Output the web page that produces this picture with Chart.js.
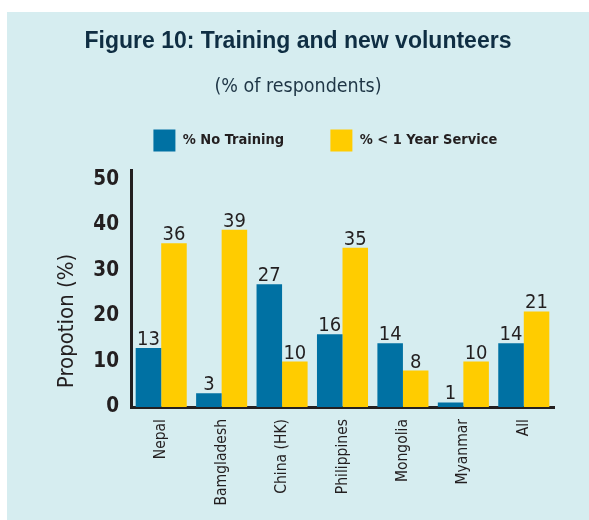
<!DOCTYPE html>
<html><head><meta charset="utf-8">
<script src="https://cdn.jsdelivr.net/npm/chart.js@4.4.1/dist/chart.umd.min.js"></script>
<style>
html,body{margin:0;padding:0;background:#ffffff;}
#panel{position:absolute;left:7px;top:12px;width:582px;height:508px;background:#d6edf0;}
canvas{display:block}
</style></head><body>
<div id="panel"><canvas id="c" width="582" height="508"></canvas></div>
<script>
const categories = ['Nepal', 'Bamgladesh', 'China (HK)', 'Philippines', 'Mongolia', 'Myanmar', 'All'];
const noTraining = [13, 3, 27, 16, 14, 1, 14];
const underOneYear = [36, 39, 10, 35, 8, 10, 21];
const seriesNames = ['% No Training', '% < 1 Year Service'];
const yTicks = [0, 10, 20, 30, 40, 50];
const titleText = 'Figure 10: Training and new volunteers';
const subtitleText = '(% of respondents)';
const yTitleText = 'Propotion (%)';

const NARROW = "'DejaVu Sans Condensed', 'Liberation Sans', sans-serif";
const SANS = "'Liberation Sans', Arial, sans-serif";
const INK = '#231f20';

const valueLabels = {
  id: 'valueLabels',
  afterDatasetsDraw(chart) {
    const ctx = chart.ctx;
    ctx.save();
    ctx.font = '20px ' + NARROW;
    ctx.fillStyle = INK;
    ctx.textAlign = 'center';
    ctx.textBaseline = 'alphabetic';
    chart.data.datasets.forEach((ds, i) => {
      chart.getDatasetMeta(i).data.forEach((bar, j) => {
        ctx.fillText(String(ds.data[j]), bar.x, bar.y - 3);
      });
    });
    ctx.restore();
  }
};

const legendGap = {
  id: 'legendGap',
  beforeInit(chart) {
    if (!chart.legend) return;
    const orig = chart.legend.fit;
    chart.legend.fit = function () { orig.call(this); this.height += 9; };
  }
};

new Chart(document.getElementById('c'), {
  type: 'bar',
  data: {
    labels: categories,
    datasets: [
      { label: seriesNames[0], data: noTraining, backgroundColor: '#0071a3', borderWidth: 0, categoryPercentage: 0.845, barPercentage: 1.0 },
      { label: seriesNames[1], data: underOneYear, backgroundColor: '#ffcc00', borderWidth: 0, categoryPercentage: 0.845, barPercentage: 1.0 }
    ]
  },
  options: {
    responsive: false,
    animation: false,
    layout: { padding: 0 },
    plugins: {
      title: { display: true, text: titleText, color: '#0f2e43', font: { family: SANS, size: 23, weight: 'bold', lineHeight: 1.2 }, padding: { top: 15.7, bottom: 0 } },
      subtitle: { display: true, text: subtitleText, color: '#1f3646', font: { family: NARROW, size: 19.5, weight: 'normal', lineHeight: 1.2 }, padding: { top: 19.7, bottom: 21.1 } },
      legend: {
        display: true, position: 'top', align: 'end',
        labels: {
          boxWidth: 22, boxHeight: 22, padding: 10, color: INK,
          font: { family: NARROW, size: 14.5, weight: 'bold' },
          generateLabels(chart) {
            const items = Chart.defaults.plugins.legend.labels.generateLabels(chart);
            items[0].text = items[0].text + '        ';
            items[1].text = items[1].text + '                  ';
            return items;
          }
        }
      },
      tooltip: { enabled: false }
    },
    scales: {
      x: {
        grid: { display: false, drawTicks: false },
        border: { display: true, color: INK, width: 3 },
        ticks: { color: INK, font: { family: NARROW, size: 15.5 }, maxRotation: 90, minRotation: 90, padding: 12, autoSkip: false },
        afterFit(s) { s.height = 113; }
      },
      y: {
        min: 0, max: 52,
        grid: { display: false, drawTicks: false },
        border: { display: true, color: INK, width: 3 },
        ticks: { color: INK, font: { family: NARROW, size: 20.5, weight: 'bold' }, padding: 12 },
        afterBuildTicks(s) { s.ticks = yTicks.map(v => ({ value: v })); },
        title: { display: true, text: '   ' + yTitleText, align: 'start', color: INK, font: { family: NARROW, size: 22, weight: 'normal' }, padding: { top: 47, bottom: 0 } },
        afterFit(s) { s.width = 124; }
      },
      yRight: {
        position: 'right', display: true,
        grid: { display: false, drawTicks: false },
        border: { display: false },
        ticks: { display: false },
        afterFit(s) { s.width = 35; }
      }
    }
  },
  plugins: [valueLabels, legendGap]
});
</script>
</body></html>
